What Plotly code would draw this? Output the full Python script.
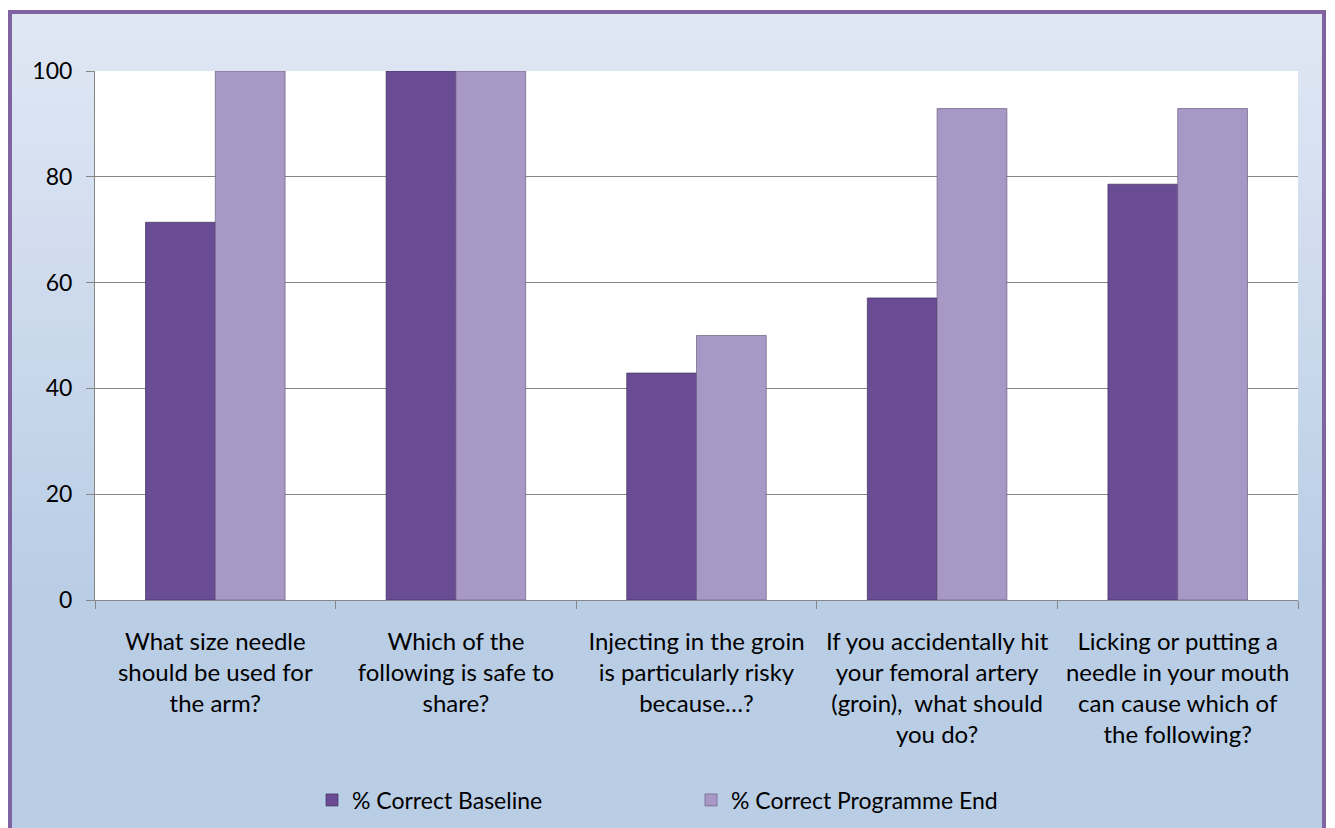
import plotly.graph_objects as go

# data
questions = [
    "What size needle<br>should be used for<br>the arm?",
    "Which of the<br>following is safe to<br>share?",
    "Injecting in the groin<br>is particularly risky<br>because\u2026?",
    "If you accidentally hit<br>your femoral artery<br>(groin),  what should<br>you do?",
    "Licking or putting a<br>needle in your mouth<br>can cause which of<br>the following?",
]
baseline = [71.4, 100, 42.9, 57.1, 78.6]
programme_end = [100, 100, 50, 92.9, 92.9]
y_ticks = [0, 20, 40, 60, 80, 100]

# the page adds an 8px body margin, so the figure is drawn 8px smaller
OFF = 8
W, H = 1335 - OFF, 828 - OFF
FONT = "Lato, 'Open Sans', sans-serif"


def px_x(x):
    return (x - OFF) / W


def px_y(y):
    return 1 - (y - OFF) / H


def mix(c1, c2, t):
    return "rgb(%d,%d,%d)" % tuple(round(a + (b - a) * t) for a, b in zip(c1, c2))


fig = go.Figure()
fig.add_trace(go.Bar(
    x=questions, y=baseline, name="% Correct Baseline",
    marker=dict(color="#694C93", line=dict(color="rgba(70,50,100,0.7)", width=1)),
))
fig.add_trace(go.Bar(
    x=questions, y=programme_end, name="% Correct Programme End",
    marker=dict(color="#A898C5", line=dict(color="rgba(110,95,130,0.7)", width=1)),
))

# frame background: vertical gradient built from thin strips
shapes = []
top_c, bot_c = (224, 231, 244), (185, 205, 229)
y0, y1 = 12, 600
n = 40
for i in range(n):
    a = y0 + (y1 - y0) * i / n
    b = y0 + (y1 - y0) * (i + 1) / n + 1
    shapes.append(dict(type="rect", xref="paper", yref="paper", layer="below",
                       x0=px_x(10), x1=px_x(1324), y0=px_y(b), y1=px_y(a),
                       line=dict(width=0), fillcolor=mix(top_c, bot_c, i / (n - 1))))
shapes.append(dict(type="rect", xref="paper", yref="paper", layer="below",
                   x0=px_x(10), x1=px_x(1324), y0=px_y(840), y1=px_y(600),
                   line=dict(width=0), fillcolor=mix(top_c, bot_c, 1)))
# white plot area
shapes.append(dict(type="rect", xref="paper", yref="paper", layer="below",
                   x0=px_x(95), x1=px_x(1298), y0=px_y(600), y1=px_y(71),
                   line=dict(width=0), fillcolor="white"))
# purple frame border
shapes.append(dict(type="rect", xref="paper", yref="paper", layer="above",
                   x0=px_x(10), x1=px_x(1324), y0=px_y(845), y1=px_y(12),
                   line=dict(color="#8064A2", width=4), fillcolor="rgba(0,0,0,0)"))

fig.update_layout(
    width=W, height=H,
    margin=dict(l=0, r=0, t=0, b=0),
    paper_bgcolor="white",
    plot_bgcolor="rgba(0,0,0,0)",
    font=dict(family=FONT, color="black", size=22),
    barmode="group",
    bargap=0.42,
    bargroupgap=0,
    shapes=shapes,
    showlegend=True,
    legend=dict(
        orientation="h", x=px_x(312), xanchor="left", y=px_y(800), yanchor="middle",
        entrywidth=334, entrywidthmode="pixels",
        font=dict(family=FONT, size=23), bgcolor="rgba(0,0,0,0)",
    ),
    xaxis=dict(
        domain=[px_x(95), px_x(1298)],
        automargin=False,
        showline=True, linecolor="#868686", linewidth=1,
        ticks="outside", tickson="boundaries", ticklen=8, tickcolor="#868686",
        tickfont=dict(family=FONT, size=24), tickangle=0,
        ticklabelstandoff=20,
        anchor="y",
    ),
    yaxis=dict(
        domain=[px_y(600), px_y(71)],
        automargin=False,
        range=[0, 100], tickvals=y_ticks,
        showgrid=True, gridcolor="#868686", gridwidth=1,
        showline=True, linecolor="#868686", linewidth=1,
        ticks="outside", ticklen=8, tickcolor="#868686",
        tickfont=dict(family=FONT, size=23),
        ticklabelstandoff=9,
        zeroline=False, anchor="x",
    ),
)

fig.write_html("out.html")
